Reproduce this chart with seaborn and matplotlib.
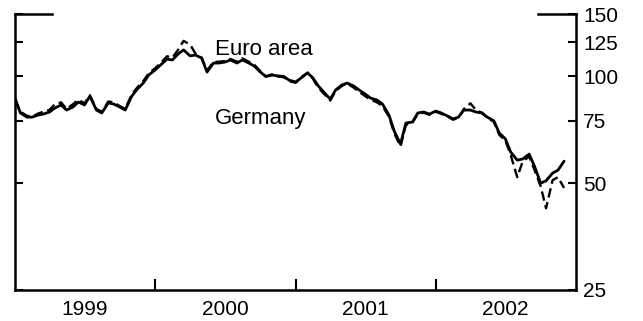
import matplotlib
matplotlib.use("Agg")
import matplotlib.pyplot as plt
import matplotlib.dates as mdates
import matplotlib.ticker as mticker
import numpy as np
import pandas as pd
import seaborn as sns

# Semi-monthly equity price indices, 1999-2002 (log scale)
dates = pd.date_range("1999-01-01", periods=95, freq="SMS")

euro_area = [
    86.9, 78.9, 76.8, 76.8, 77.8, 78.3, 79.4, 81.5, 83.1, 80.4,
    82.0, 84.7, 83.1, 88.0, 80.4, 78.9, 84.2, 83.6, 82.0, 80.4,
    88.0, 92.0, 95.8, 100.9, 104.3, 107.7, 111.9, 111.3, 115.8, 118.8,
    114.3, 114.9, 112.7, 102.9, 109.1, 109.1, 109.8, 111.3, 109.1, 111.3,
    109.1, 107.0, 102.9, 100.0, 100.9, 100.4, 100.0, 97.6, 96.5, 99.0,
    102.3, 99.0, 94.0, 90.4, 86.3, 91.6, 94.6, 95.8, 94.0, 91.6,
    89.2, 86.9, 85.8, 83.6, 77.8, 70.0, 64.5, 73.9, 74.4, 78.9,
    79.4, 78.3, 79.9, 78.9, 77.3, 75.9, 76.8, 80.4, 80.4, 79.4,
    78.9, 76.8, 75.0, 69.3, 66.7, 61.2, 58.1, 58.5, 60.4, 55.8,
    50.0, 50.8, 53.4, 54.4, 57.7,
]

germany = [
    86.0, 79.5, 77.5, 77.0, 78.5, 79.5, 80.5, 83.5, 84.5, 81.0,
    83.5, 86.0, 84.0, 88.5, 81.0, 79.5, 85.0, 84.5, 82.5, 81.0,
    89.0, 93.0, 97.0, 102.0, 105.5, 109.0, 114.0, 113.0, 119.0, 126.0,
    123.0, 116.0, 113.0, 104.0, 110.0, 110.0, 110.5, 112.0, 110.0, 112.5,
    110.0, 108.0, 103.5, 100.0, 101.5, 100.0, 99.5, 97.0, 96.0, 99.5,
    102.5, 98.5, 93.0, 89.5, 85.5, 91.0, 94.0, 95.5, 93.0, 90.5,
    88.0, 86.0, 84.5, 82.5, 77.0, 69.0, 63.5, 73.0, 74.0, 78.5,
    79.0, 78.0, 79.5, 78.5, 77.0, 75.5, 76.5, 81.0, 84.0, 80.5,
    79.0, 76.5, 74.5, 68.5, 66.0, 60.0, 52.0, 57.5, 59.5, 54.5,
    49.0, 42.5, 51.0, 52.0, 48.5,
]

y_ticks = [25, 50, 75, 100, 125, 150]
year_labels = ["1999", "2000", "2001", "2002"]

sns.set_style("white")
plt.rcParams["font.family"] = ["Liberation Sans", "DejaVu Sans"]

fig = plt.figure(figsize=(6.43, 3.21), dpi=100)
ax = fig.add_axes([15 / 643, 1 - 290 / 321, 561 / 643, 276 / 321])

df = pd.DataFrame({"date": dates, "Euro area": euro_area, "Germany": germany})

sns.lineplot(data=df, x="date", y="Germany", ax=ax, color="black",
             linewidth=1.7, linestyle=(0, (4, 2)))
sns.lineplot(data=df, x="date", y="Euro area", ax=ax, color="black",
             linewidth=2.0)

ax.set_yscale("log")
ax.set_ylim(25, 150)
ax.set_xlim(pd.Timestamp("1999-01-01"), pd.Timestamp("2003-01-01"))
ax.set_xlabel("")
ax.set_ylabel("")

# y axis: labels on the right, inward ticks on both sides
ax.yaxis.set_major_locator(mticker.FixedLocator(y_ticks))
ax.yaxis.set_major_formatter(mticker.FixedFormatter([str(v) for v in y_ticks]))
ax.yaxis.set_minor_locator(mticker.NullLocator())
ax.tick_params(axis="y", which="major", direction="in", length=6, width=1.5,
               left=True, right=True, labelleft=False, labelright=True,
               labelsize=15, pad=5, colors="black")

# x axis: year boundaries as ticks, year names centred under each year
year_starts = [pd.Timestamp(f"{y}-01-01") for y in (2000, 2001, 2002)]
mid_years = [pd.Timestamp(f"{y}-07-02") for y in year_labels]
ax.xaxis.set_major_locator(mticker.FixedLocator(mdates.date2num(year_starts)))
ax.xaxis.set_major_formatter(mticker.NullFormatter())
ax.xaxis.set_minor_locator(mticker.FixedLocator(mdates.date2num(mid_years)))
ax.xaxis.set_minor_formatter(mticker.FixedFormatter(year_labels))
ax.tick_params(axis="x", which="major", direction="in", length=8, width=1.5,
               bottom=True, top=False, colors="black")
ax.tick_params(axis="x", which="minor", length=0, labelsize=15, pad=7,
               colors="black")

for side in ("left", "right", "bottom"):
    ax.spines[side].set_visible(True)
    ax.spines[side].set_color("black")
    ax.spines[side].set_linewidth(1.8)
ax.spines["top"].set_visible(False)

# short stubs of the top frame at both corners
for x0, x1 in ((0.0, 37 / 561), (1 - 38 / 561, 1.0)):
    ax.plot([x0, x1], [1, 1], transform=ax.transAxes, color="black",
            linewidth=1.8, clip_on=False, solid_capstyle="projecting")

ax.text(200 / 561, 0.851, "Euro area", transform=ax.transAxes,
        fontsize=16, va="baseline", ha="left", color="black")
ax.text(200 / 561, 0.601, "Germany", transform=ax.transAxes,
        fontsize=16, va="baseline", ha="left", color="black")

fig.savefig("out.png", dpi=100)
